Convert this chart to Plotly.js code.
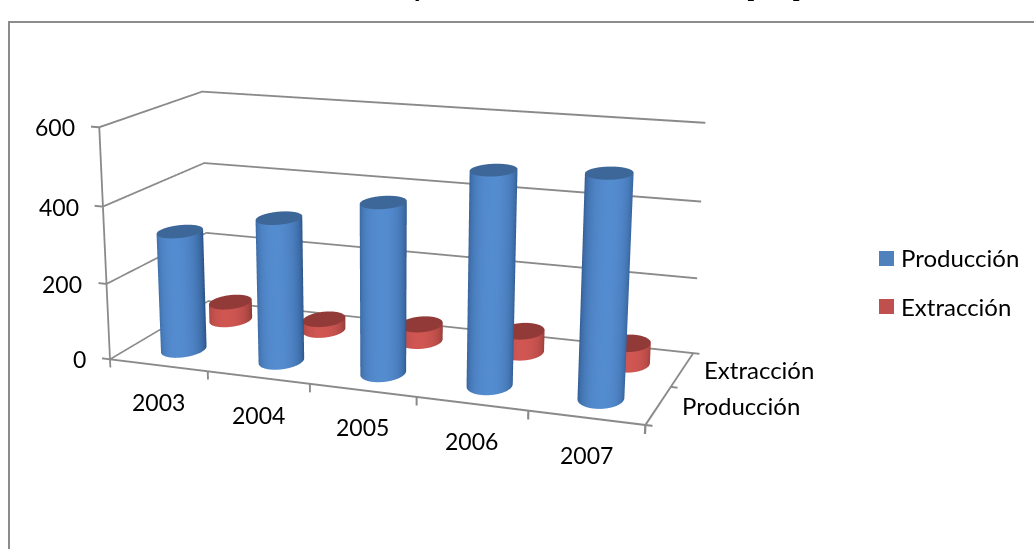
<!DOCTYPE html>
<html>
<head>
<meta charset="utf-8">
<script src="https://cdn.plot.ly/plotly-3.0.1.min.js"></script>
<style>
html,body{margin:0;padding:0;width:1034px;height:549px;overflow:hidden;background:#fff}
#chart{position:absolute;left:-303px;top:-417px;width:1340px;height:1452px}
</style>
</head>
<body>
<div id="chart"></div>
<script>
// Yearly figures by series
const years = ['2003', '2004', '2005', '2006', '2007'];
const seriesNames = ['Producción', 'Extracción'];
const produccion = [315, 373, 435, 535, 548];
const extraccion = [50, 30, 45, 56, 54];
const valueTicks = [0, 200, 400, 600];
const chartTitle = 'Producción y extracción de minerales [Mt]';

// Category / series extents of the floor, and how far the scene box reaches past them for tick marks
const xMin = -0.5, xMax = 4.5, yMin = -0.5, yMax = 1.5, zMax = 600;
const xRange = [-0.585, 4.56], yRange = [-0.51, 1.51], zRange = [-22, 603];
const aspect = {x: 1.029, y: 0.4177, z: 0.4514};
const stageW = 1340, stageH = 1452, stageL = -303, stageT = -417;
const px = x => (x - stageL) / stageW;
const py = y => 1 - (y - stageT) / stageH;

const flatLight = {ambient: 1, diffuse: 0, specular: 0, roughness: 1, fresnel: 0};
const palette = [
  {cap: '#3e6799', edge: [44, 84, 136], mid: [84, 140, 208], swatch: '#4f81bd'},
  {cap: '#923a38', edge: [140, 56, 52], mid: [208, 86, 82], swatch: '#c0504d'}
];

// Builds one closed cylinder on the floor at (cx, cy) rising to the given value
function cylinder(cx, cy, value, style, name) {
  const rWorld = 0.039, N = 64;
  const rx = rWorld * (xRange[1] - xRange[0]) / aspect.x;
  const ry = 1.4 * rWorld * (yRange[1] - yRange[0]) / aspect.y;
  const X = [], Y = [], Z = [], C = [], I = [], J = [], K = [];
  const view = [0.3586, -0.9335];
  for (let i = 0; i <= N; i++) {
    const a = 2 * Math.PI * i / N, nx = Math.cos(a), ny = Math.sin(a);
    const t = Math.max(0, nx * view[0] + ny * view[1]);
    const m = Math.pow(t, 0.85);
    const c = style.edge.map((e, n) => Math.round(e + (style.mid[n] - e) * m));
    const col = `rgb(${c[0]},${c[1]},${c[2]})`;
    X.push(cx + rx * nx, cx + rx * nx);
    Y.push(cy + ry * ny, cy + ry * ny);
    Z.push(0, value);
    C.push(col, col);
  }
  for (let i = 0; i < N; i++) {
    const p = 2 * i;
    I.push(p, p + 1); J.push(p + 1, p + 3); K.push(p + 2, p + 2);
  }
  const centre = X.length;
  X.push(cx); Y.push(cy); Z.push(value); C.push(style.cap);
  const ring = X.length;
  for (let i = 0; i <= N; i++) {
    const a = 2 * Math.PI * i / N;
    X.push(cx + rx * Math.cos(a)); Y.push(cy + ry * Math.sin(a)); Z.push(value); C.push(style.cap);
  }
  for (let i = 0; i < N; i++) { I.push(centre); J.push(ring + i); K.push(ring + i + 1); }
  return {
    type: 'mesh3d', name, x: X, y: Y, z: Z, i: I, j: J, k: K, vertexcolor: C,
    flatshading: false, hoverinfo: 'skip', showscale: false, lighting: flatLight
  };
}

const traces = [];
[produccion, extraccion].forEach((vals, s) => {
  vals.forEach((v, c) => traces.push(cylinder(c, s, v, palette[s], seriesNames[s])));
});

// Gridlines, axis lines and tick marks, as thin ribbons so they keep their width
const rx = [], ry = [], rz = [], ri = [], rj = [], rk = [];
const dz = 2.5, dx = 0.0093;
function ribbon(a, b, d) {
  const n = rx.length;
  [[a, -1], [a, 1], [b, -1], [b, 1]].forEach(([p, s]) => {
    rx.push(p[0] + s * d[0]); ry.push(p[1] + s * d[1]); rz.push(p[2] + s * d[2]);
  });
  ri.push(n, n + 1); rj.push(n + 1, n + 3); rk.push(n + 2, n + 2);
}
const thickZ = [0, 0, dz], thickX = [dx, 0, 0];
valueTicks.forEach(v => {
  ribbon([xMin, yMax, v], [xMax, yMax, v], thickZ);
  ribbon([xMin, yMin, v], [xMin, yMax, v], thickZ);
  ribbon([xMin - 0.085, yMin, v], [xMin, yMin, v], thickZ);
});
ribbon([xMin, yMin, 0], [xMin, yMin, zMax], thickX);
ribbon([xMin, yMin, 0], [xMax, yMin, 0], thickZ);
ribbon([xMax, yMin, 0], [xMax, yMax, 0], thickX);
[0, 1, 2, 3, 4, 5].forEach(i => ribbon([xMin + i, yMin, -22], [xMin + i, yMin, 0], thickX));
[0, 1, 2].forEach(i => ribbon([xMax, yMin + i, 0], [xMax + 0.06, yMin + i, 0], thickZ));
traces.push({type: 'mesh3d', x: rx, y: ry, z: rz, i: ri, j: rj, k: rk, color: '#8a8a8a',
             hoverinfo: 'skip', lighting: flatLight, flatshading: true});

const digitFont = {family: 'Lato, sans-serif', size: 23, color: '#000'};
const wordFont = {family: 'Lato, sans-serif', size: 24, color: '#000'};
const sceneNotes = [];
valueTicks.forEach(v => sceneNotes.push({
  x: xMin, y: yMin, z: v, text: String(v), showarrow: false,
  xanchor: 'right', xshift: -22, font: digitFont
}));
years.forEach((yr, i) => sceneNotes.push({
  x: i, y: yMin, z: 0, text: yr, showarrow: false, yshift: -37, font: digitFont
}));
seriesNames.forEach((nm, i) => sceneNotes.push({
  x: xMax, y: i, z: 0, text: nm, showarrow: false, xanchor: 'left', xshift: [22, 20][i], font: wordFont
}));

const blankAxis = {
  title: {text: ''}, showticklabels: false, showgrid: false, zeroline: false,
  showbackground: false, showspikes: false, showline: false, ticks: ''
};

const legendNotes = seriesNames.map((nm, i) => ({
  xref: 'paper', yref: 'paper', x: px(899), y: py([258, 306][i]), text: nm,
  showarrow: false, xanchor: 'left', yanchor: 'middle', font: wordFont
}));
const swatches = palette.map((p, i) => ({
  type: 'rect', xref: 'paper', yref: 'paper', x0: px(879), x1: px(894),
  y0: py([251, 299][i]), y1: py([266, 314][i]), fillcolor: p.swatch, line: {width: 0}
}));
const frame = {
  type: 'path', xref: 'paper', yref: 'paper',
  path: `M ${px(9)} ${py(560)} L ${px(9)} ${py(22)} L ${px(1050)} ${py(22)}`,
  line: {color: '#8c8c8c', width: 2}
};

const layout = {
  width: stageW, height: stageH,
  margin: {l: 0, r: 0, t: 0, b: 0},
  paper_bgcolor: '#fff', showlegend: false,
  shapes: [frame, ...swatches],
  annotations: [
    {xref: 'paper', yref: 'paper', x: px(804), y: py(4), yanchor: 'bottom', xanchor: 'right',
     text: '<b>' + chartTitle + '</b>', showarrow: false,
     font: {family: 'Lato, sans-serif', size: 29, color: '#000'}},
    ...legendNotes
  ],
  scene: {
    domain: {x: [0, 1], y: [0, 1]},
    aspectmode: 'manual', aspectratio: aspect,
    camera: {
      projection: {type: 'perspective'},
      eye: {x: 1.0491, y: -2.911, z: 0.7901},
      center: {x: -0.0468, y: -0.0561, z: -0.1082},
      up: {x: -0.0986, y: 0.2643, z: 0.9595}
    },
    xaxis: {...blankAxis, range: xRange},
    yaxis: {...blankAxis, range: yRange},
    zaxis: {...blankAxis, range: zRange},
    annotations: sceneNotes
  }
};

Plotly.newPlot('chart', traces, layout, {displayModeBar: false, responsive: false});
</script>
</body>
</html>
